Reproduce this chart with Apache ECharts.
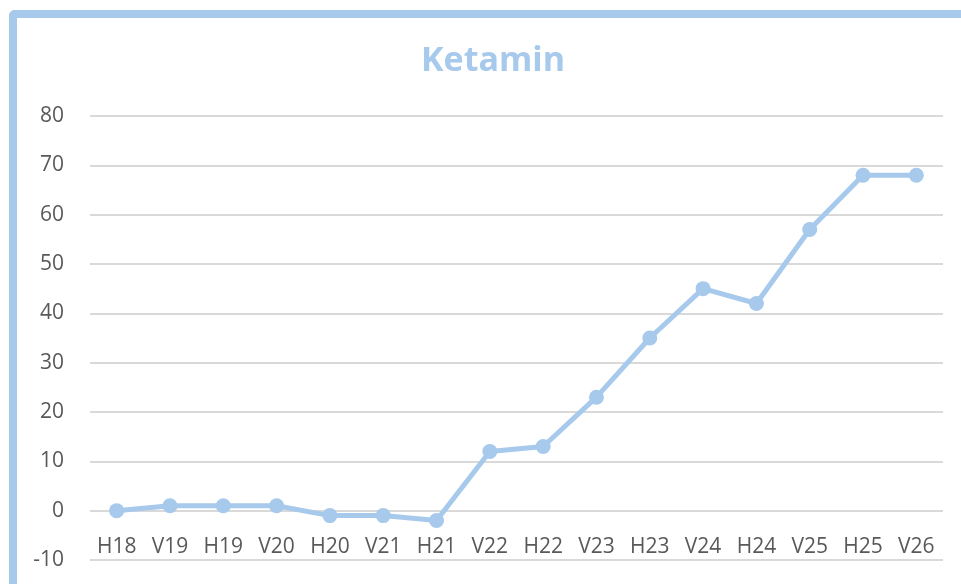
<!DOCTYPE html>
<html lang="en">
  <head>
    <meta charset="UTF-8" />
    <title>Ketamin</title>
    <script src="https://cdn.jsdelivr.net/npm/echarts@6/dist/echarts.min.js"></script>
    <style>
      html, body { margin: 0; padding: 0; background: #fff; }
      #frame {
        position: absolute; left: 9px; top: 10px; width: 960px; height: 590px;
        border-left: 8px solid #a6c9ec; border-top: 8px solid #a6c9ec;
        border-top-left-radius: 6px; box-sizing: border-box;
      }
      #main { position: absolute; left: 0; top: 0; width: 961px; height: 584px; }
    </style>
  </head>
  <body>
    <div id="frame"></div>
    <div id="main"></div>
    <script>
      // kategorier och värden
      const periods = ["H18", "V19", "H19", "V20", "H20", "V21", "H21", "V22", "H22", "V23", "H23", "V24", "H24", "V25", "H25", "V26"];
      const values = [0, 1, 1, 1, -1, -1, -2, 12, 13, 23, 35, 45, 42, 57, 68, 68];

      var myChart = echarts.init(document.getElementById("main"));
      var option = {
        animation: false,
        title: {
          text: "Ketamin",
          left: 416,
          top: 39,
          textStyle: { color: "#a6c9ec", fontSize: 34, fontWeight: "bold", fontFamily: "Open Sans" },
        },
        grid: { left: 90, right: 18, top: 116, bottom: 24, containLabel: false, outerBoundsMode: "none" },
        xAxis: {
          type: "category",
          data: periods,
          position: "bottom",
          // etiketterna ligger vid nollinjen (49 px ovanför -10)
          offset: -49,
          axisLine: { show: false, onZero: false },
          axisTick: { show: false },
          axisLabel: { color: "#595959", fontSize: 21, fontFamily: "Open Sans", margin: 26 },
        },
        yAxis: {
          type: "value",
          min: -10,
          max: 80,
          interval: 10,
          axisLine: { show: false },
          axisTick: { show: false },
          axisLabel: { color: "#595959", fontSize: 21, fontFamily: "Open Sans", margin: 26 },
          splitLine: { lineStyle: { color: "#d9d9d9", width: 2 } },
        },
        series: [
          {
            type: "line",
            data: values,
            symbol: "circle",
            symbolSize: 15,
            lineStyle: { color: "#a6c9ec", width: 5 },
            itemStyle: { color: "#a6c9ec" },
          },
        ],
      };
      myChart.setOption(option);
    </script>
  </body>
</html>
